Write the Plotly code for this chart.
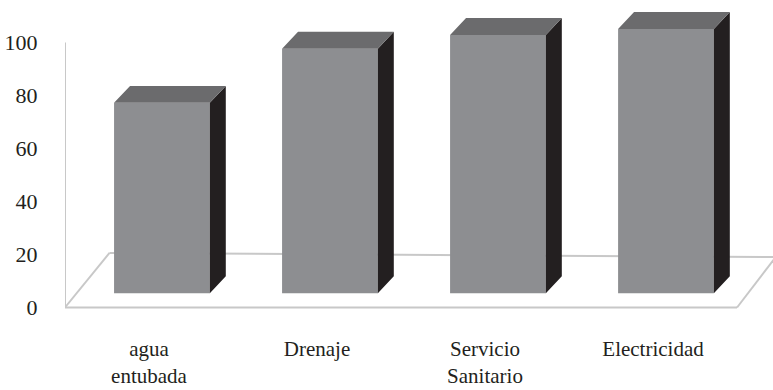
import plotly.graph_objects as go

# ---- data ----
categories = ["agua<br>entubada", "Drenaje", "Servicio<br>Sanitario", "Electricidad"]
values = [71.8, 92.2, 97.4, 99.7]
y_ticks = [0, 20, 40, 60, 80, 100]

# ---- style / pseudo-3D geometry (in axis units) ----
FONT = "Liberation Serif, DejaVu Serif, Noto Serif, serif"
TXT = "#231f20"
FRONT = "#8d8e91"
TOP = "#6b6b6d"
SIDE = "#231f20"
FLOOR = "#c8c8c8"
BAR_W = 0.57
PLANE_DX, PLANE_DY = 0.077, 5.4      # bar plane offset from front plane
DEPTH_DX, DEPTH_DY = 0.095, 6.4      # bar depth
FLOOR_L = (0.265, 20.6)              # back-left offset of floor
FLOOR_R = (0.23, 19.0)               # back-right offset of floor
X0, X1 = -0.5, len(categories) - 0.5

pos = list(range(len(categories)))

fig = go.Figure()

# front faces
fig.add_trace(go.Bar(
    x=[p + PLANE_DX for p in pos], y=values, base=[PLANE_DY] * len(values),
    width=BAR_W, marker=dict(color=FRONT, line=dict(width=0)),
    hoverinfo="skip", showlegend=False))

# side and top faces
sx, sy, tx, ty = [], [], [], []
for p, v in zip(pos, values):
    xl = p + PLANE_DX - BAR_W / 2
    xr = p + PLANE_DX + BAR_W / 2
    b = PLANE_DY
    t = PLANE_DY + v
    sx += [xr, xr + DEPTH_DX, xr + DEPTH_DX, xr, xr, None]
    sy += [b, b + DEPTH_DY, t + DEPTH_DY, t, b, None]
    tx += [xl, xl + DEPTH_DX, xr + DEPTH_DX, xr, xl, None]
    ty += [t, t + DEPTH_DY, t + DEPTH_DY, t, t, None]

fig.add_trace(go.Scatter(x=sx, y=sy, mode="lines", fill="toself",
                         fillcolor=SIDE, line=dict(width=0, color=SIDE),
                         hoverinfo="skip", showlegend=False))
fig.add_trace(go.Scatter(x=tx, y=ty, mode="lines", fill="toself",
                         fillcolor=TOP, line=dict(width=0, color=TOP),
                         hoverinfo="skip", showlegend=False))

# floor and wall edge
lines = [
    (X0, 0, X1, 0),
    (X0, 0, X0 + FLOOR_L[0], FLOOR_L[1]),
    (X0 + FLOOR_L[0], FLOOR_L[1], X1 + FLOOR_R[0], FLOOR_R[1]),
    (X1, 0, X1 + FLOOR_R[0], FLOOR_R[1]),
    (X0, 0, X0, max(y_ticks)),
]
for a, b_, c, d in lines:
    fig.add_shape(type="line", xref="x", yref="y", x0=a, y0=b_, x1=c, y1=d,
                  line=dict(color=FLOOR, width=2), layer="below")

fig.update_layout(
    width=773, height=390,
    margin=dict(l=65, r=0, t=0, b=56),
    paper_bgcolor="white", plot_bgcolor="white",
    showlegend=False,
    font=dict(family=FONT, color=TXT),
    xaxis=dict(range=[X0, X1 + 0.214], tickvals=pos, ticktext=categories,
               showgrid=False, zeroline=False, showline=False,
               ticks="",
               tickfont=dict(family=FONT, size=21, color=TXT),
               automargin=False, fixedrange=True),
    yaxis=dict(range=[-10, 116], tickvals=y_ticks,
               showgrid=False, zeroline=False, showline=False,
               ticks="outside", ticklen=22, tickcolor="rgba(0,0,0,0)",
               tickfont=dict(family=FONT, size=22, color=TXT),
               automargin=False, fixedrange=True),
)

fig.write_html("out.html", config={"displayModeBar": False})
